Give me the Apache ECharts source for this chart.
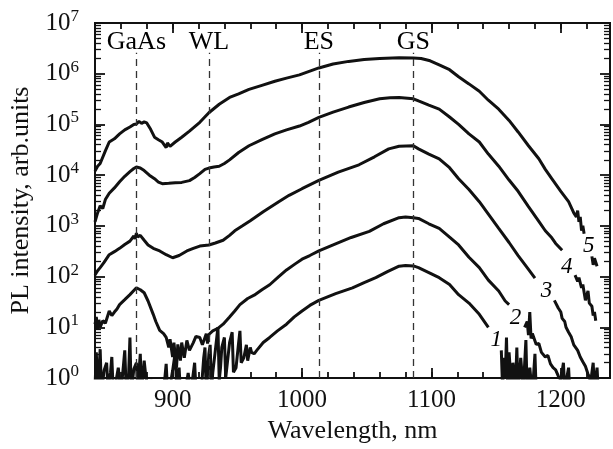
<!DOCTYPE html>
<html>
<head>
<meta charset="utf-8">
<script src="https://cdn.jsdelivr.net/npm/echarts@6/dist/echarts.min.js"></script>
<style>
  html, body { margin: 0; padding: 0; background: #fff; }
  #chart { width: 613px; height: 449px; }
</style>
</head>
<body>
<div id="chart"></div>
<script>
// PL spectra, [wavelength nm, intensity arb.units], null = gap for the curve number
var pl1 = [[840,0.63],[841,3.2],[842,0.7],[843,1.26],[844,3.7],[845,0.5],[847,1.4],[849,2.0],[850,0.6],[852,1.3],[853,2.6],[854,0.6],[856,0.8],[858,1.6],[860,0.5],[862,1.8],[863,3.5],[864,0.7],[866,1.2],[867,6.3],[868,0.5],[870,1.5],[872,2.0],[873,0.6],[875,3.0],[876,0.5],[878,2.2],[879,1.26],[881,0.6],[884,0.9],[886,0.5],[889,0.7],[892,0.5],[894,1.0],[895,1.9],[896,0.6],[898,0.7],[900,1.4],[902,3.2],[903,0.7],[905,1.6],[906,0.5],[908,0.9],[910,0.6],[912,1.26],[914,0.5],[917,2.0],[918,0.6],[920,0.8],[922,0.5],[924,2.5],[925,4.0],[926,0.5],[928,3.0],[929,4.5],[930,0.6],[931,1.26],[933,3.5],[935,10],[936,0.9],[937,1.6],[938,4.0],[940,6.3],[941,1.0],[942,1.0],[944,5.0],[946,8.0],[947,1.3],[949,1.6],[951,5.0],[952,8.5],[953,2.0],[955,2.5],[957,4.5],[958,2.2],[960,4.0],[961,3.2],[963,3.0],[965,3.5],[970,5.0],[975,6.3],[981,8.5],[988,11.5],[994,16],[1000,21],[1006,27],[1013,34],[1026,46],[1039,60],[1048,76],[1057,95],[1066,125],[1075,160],[1080,165],[1086,162],[1090,150],[1098,120],[1106,95],[1114,70],[1121,44],[1129,30],[1137,18],[1144,10],[1145,null],[1154,3.5],[1155,0.6],[1156,2.5],[1157,1.0],[1158,6.3],[1159,0.5],[1160,3.2],[1162,0.6],[1163,2.0],[1165,0.7],[1166,4.0],[1167,0.5],[1169,2.5],[1171,0.6],[1173,5.6],[1174,0.5],[1176,1.6],[1178,0.5],[1180,3.0],[1181,0.5]];
var pl2 = [[840,11.5],[841,16],[842,9],[843,14],[844,10],[846,13.5],[848,12],[851,21],[853,17],[855,20],[857,23],[859,28],[863,35],[867,44],[870,53],[872,60],[875,55],[878,48],[881,33],[885,18],[887,13],[890,8.7],[893,7.5],[895,6.3],[897,4.0],[898,5.8],[900,2.6],[901,5.0],[903,1.6],[904,4.6],[906,2.2],[907,5.0],[909,2.5],[911,5.5],[913,3.5],[916,5.0],[918,6.6],[921,6.3],[923,4.5],[926,7.5],[927,4.8],[928,7.2],[931,8.5],[935,9.5],[939,11.5],[944,16],[948,21],[952,28],[958,37],[963,43],[969,55],[975,69],[982,100],[988,135],[995,180],[1000,220],[1006,260],[1013,320],[1025,430],[1038,590],[1052,780],[1063,1100],[1075,1450],[1080,1500],[1086,1450],[1090,1400],[1098,1100],[1106,890],[1114,600],[1121,420],[1129,240],[1137,150],[1144,85],[1152,52],[1157,33],[1160,28],[1161,null],[1172,10],[1174,13],[1175,7],[1176,20],[1177,6],[1178,7.5],[1181,4.6],[1183,4.8],[1185,3.2],[1188,2.6],[1190,2.8],[1192,1.9],[1194,1.6],[1196,1.45],[1198,1.1],[1200,0.9],[1202,2.0],[1203,0.6],[1206,1.6],[1207,0.5]];
var pl3 = [[840,107],[842,130],[844,150],[847,190],[851,270],[855,310],[859,360],[863,430],[867,500],[870,630],[871,550],[872,720],[873,600],[875,650],[878,520],[881,420],[885,360],[890,320],[895,270],[900,235],[905,260],[911,320],[916,360],[921,400],[928,420],[933,460],[939,520],[944,650],[948,800],[954,1000],[960,1260],[970,1900],[982,3000],[990,4000],[1000,5400],[1013,7900],[1028,11500],[1044,16000],[1056,23000],[1067,33000],[1075,37000],[1086,38000],[1090,33000],[1098,26000],[1106,21000],[1114,14000],[1121,8500],[1129,5200],[1137,3000],[1144,1700],[1152,890],[1160,470],[1167,260],[1174,150],[1180,93],[1181,null],[1195,34],[1198,24],[1200,20],[1201,15],[1203,13],[1204,10],[1206,8],[1208,6.5],[1210,4.5],[1211,4.8],[1213,3.5],[1215,2.6],[1217,2.1],[1219,1.7],[1221,1.2],[1222,1.05],[1223,0.8],[1225,2.0],[1226,0.6],[1228,1.6],[1229,0.5]];
var pl4 = [[840,1200],[842,1800],[844,2500],[846,2200],[848,3300],[851,4400],[855,5600],[859,7400],[863,9500],[867,11700],[870,13500],[872,14500],[875,13800],[878,12300],[882,10000],[886,8500],[889,7300],[892,6800],[897,6900],[902,7100],[907,7200],[913,7800],[917,9000],[921,10700],[925,13000],[928,13800],[932,14500],[936,15000],[940,17000],[944,20000],[951,28000],[959,38000],[969,50000],[979,65000],[988,78000],[998,93000],[1005,110000],[1013,138000],[1024,175000],[1036,220000],[1048,270000],[1060,320000],[1068,335000],[1075,340000],[1086,320000],[1090,290000],[1098,240000],[1106,200000],[1114,140000],[1121,100000],[1129,65000],[1137,45000],[1144,26000],[1152,15000],[1160,8000],[1167,4800],[1175,2400],[1183,1230],[1188,800],[1193,580],[1196,450],[1201,330],[1202,null],[1211,107],[1213,80],[1214,95],[1216,60],[1217,70],[1219,34],[1221,52],[1222,30],[1224,26],[1225,17],[1226,20],[1227,13.5]];
var pl5 = [[840,12000],[842,15000],[844,17000],[848,30000],[851,45000],[855,52000],[859,65000],[863,78000],[867,89000],[870,100000],[872,102000],[874,115000],[876,105000],[878,112000],[880,107000],[883,80000],[886,56000],[889,50000],[892,45000],[895,35000],[896,43000],[898,37000],[902,45000],[907,56000],[913,74000],[921,110000],[928,170000],[936,250000],[944,340000],[951,400000],[959,490000],[969,590000],[979,710000],[988,820000],[998,950000],[1005,1100000],[1013,1300000],[1024,1550000],[1036,1750000],[1048,1900000],[1060,2000000],[1075,2070000],[1086,2050000],[1092,2000000],[1099,1800000],[1106,1500000],[1114,1200000],[1121,870000],[1129,630000],[1137,450000],[1144,300000],[1152,200000],[1160,120000],[1167,71000],[1175,38000],[1183,21000],[1188,13000],[1193,8500],[1200,4800],[1206,3000],[1210,1800],[1212,1500],[1213,2000],[1214,1200],[1215,1500],[1216,810],[1217,1000],[1218,700],[1219,null],[1224,250],[1225,170],[1226,230],[1228,160]];
var spectra = [pl1, pl2, pl3, pl4, pl5];

// vertical dashed markers
var markNames = ['GaAs', 'WL', 'ES', 'GS'];
var markWl = [872, 928, 1013, 1086];
var markTop = 2.6e6;
var markLabelY = 4.1e6;

// curve numbers
var curveNames = ['1', '2', '3', '4', '5'];
var curveLabelAt = [[1150, 5.5], [1165, 15], [1189, 53], [1204.5, 158], [1221.5, 410]];

// axes
var xMin = 840, xMax = 1238;
var majorX = [900, 1000, 1100, 1200];
var decades = [1, 10, 100, 1e3, 1e4, 1e5, 1e6];
var minorMult = [2, 3, 4, 5, 6, 7, 8, 9];
var minorY = [];
decades.forEach(function (d) {
    minorMult.forEach(function (m) { minorY.push(d * m); });
});

var FONT = "'Liberation Serif', 'Times New Roman', serif";
var INK = '#111';
var myChart = echarts.init(document.getElementById('chart'));

function xAxisCfg(pos, major) {
    return {
        type: 'value', position: pos, min: xMin, max: xMax,
        interval: 20,
        axisLine: {show: true, onZero: false, lineStyle: {color: INK, width: 2}},
        axisTick: major ? {show: true, inside: true, length: 10, customValues: majorX, lineStyle: {color: INK, width: 1.8}}
                        : {show: true, inside: true, length: 6, lineStyle: {color: INK, width: 1.8}},
        axisLabel: {
            show: pos === 'bottom' && !major,
            margin: 10,
            fontFamily: FONT, fontSize: 25, color: INK,
            formatter: function (v) { return v % 100 === 0 ? String(v) : ''; }
        },
        splitLine: {show: false},
        name: (pos === 'bottom' && !major) ? 'Wavelength, nm' : '',
        nameLocation: 'middle', nameGap: 40,
        nameTextStyle: {fontFamily: FONT, fontSize: 26, color: INK}
    };
}

function yAxisCfg(pos, minor) {
    var withLabel = pos === 'left' && !minor;
    return {
        type: 'log', logBase: 10, position: pos, min: 1, max: 1e7,
        axisLine: {show: true, onZero: false, lineStyle: {color: INK, width: 2}},
        axisTick: minor ? {show: true, inside: true, length: 6, customValues: minorY, lineStyle: {color: INK, width: 1.3}}
                        : {show: true, inside: true, length: 10, lineStyle: {color: INK, width: 1.8}},
        minorTick: {show: false},
        axisLabel: {
            show: withLabel,
            margin: 16,
            formatter: function (v) {
                var n = Math.round(Math.log(v) / Math.LN10);
                return '{b|10}{e|' + n + '}';
            },
            rich: {
                b: {fontFamily: FONT, fontSize: 25, color: INK, lineHeight: 30},
                e: {fontFamily: FONT, fontSize: 17, color: INK, lineHeight: 30, verticalAlign: 'top'}
            }
        },
        splitLine: {show: false},
        name: withLabel ? 'PL intensity, arb.units' : '',
        nameLocation: 'middle', nameRotate: 90, nameGap: 60,
        nameTextStyle: {fontFamily: FONT, fontSize: 26, color: INK}
    };
}

var series = [];
for (var i = 0; i < spectra.length; i++) {
    series.push({
        name: curveNames[i],
        type: 'line',
        data: spectra[i],
        showSymbol: false,
        connectNulls: false,
        clip: true,
        lineStyle: {color: INK, width: 3},
        animation: false
    });
}

var lineData = [];
var labelData = [];
for (var k = 0; k < markWl.length; k++) {
    lineData.push([{coord: [markWl[k], 1]}, {coord: [markWl[k], markTop]}]);
    labelData.push({value: [markWl[k], markLabelY], name: markNames[k]});
}
series.push({
    type: 'scatter',
    data: labelData,
    symbolSize: 0,
    itemStyle: {opacity: 1},
    label: {show: true, position: 'inside', formatter: '{b}', fontFamily: FONT, fontSize: 26, color: '#000', opacity: 1},
    markLine: {
        silent: true, symbol: 'none',
        label: {show: false},
        lineStyle: {color: '#333', width: 1.3, type: [7, 5]},
        data: lineData,
        animation: false
    },
    animation: false
});

var numData = [];
for (var j = 0; j < curveLabelAt.length; j++) {
    numData.push({value: curveLabelAt[j], name: curveNames[j]});
}
series.push({
    type: 'scatter',
    data: numData,
    symbolSize: 0,
    itemStyle: {opacity: 1},
    label: {show: true, position: 'inside', formatter: '{b}', fontFamily: FONT, fontStyle: 'italic', fontSize: 23, color: '#000', opacity: 1},
    animation: false
});

var option = {
    backgroundColor: '#fff',
    animation: false,
    grid: {left: 95, right: 2, top: 23, bottom: 68},
    xAxis: [xAxisCfg('bottom', false), xAxisCfg('bottom', true), xAxisCfg('top', false), xAxisCfg('top', true)],
    yAxis: [yAxisCfg('left', false), yAxisCfg('left', true), yAxisCfg('right', false), yAxisCfg('right', true)],
    series: series
};

myChart.setOption(option);
</script>
</body>
</html>
